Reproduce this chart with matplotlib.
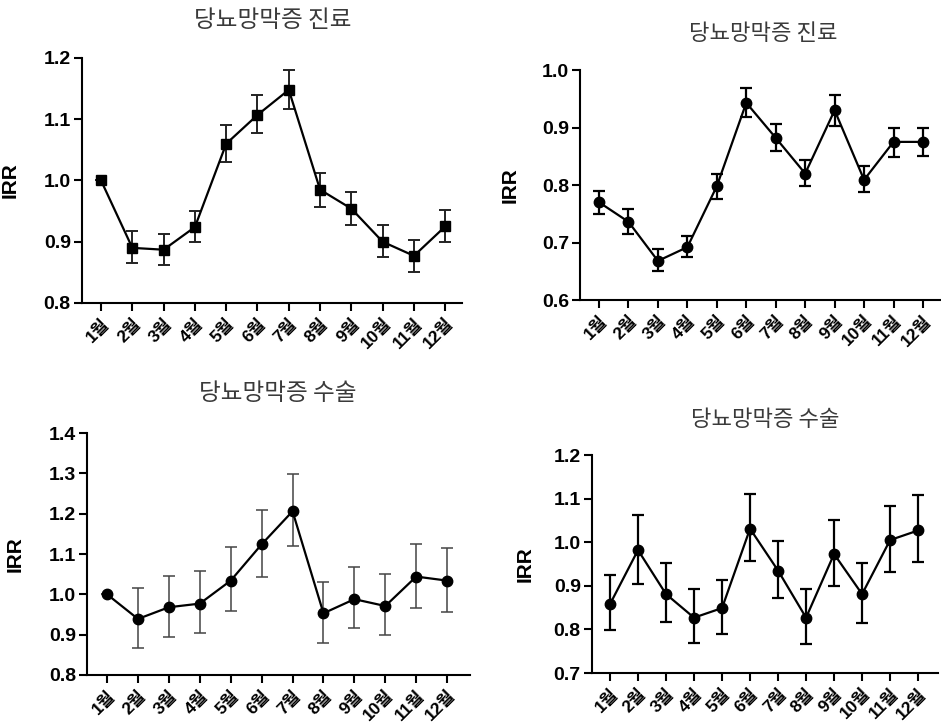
"""
IRR by month for diabetic retinopathy: treatment (top) and surgery (bottom), two panels each.
"""
import matplotlib
matplotlib.use("Agg")
import matplotlib.pyplot as plt

months = [1, 2, 3, 4, 5, 6, 7, 8, 9, 10, 11, 12]
month_labels = [f"{m}월" for m in months]

title_treat = "당뇨망막증 진료"
title_surg = "당뇨망막증 수술"

# top-left: treatment (squares)
tl_irr = [1.000, 0.890, 0.887, 0.924, 1.060, 1.107, 1.148, 0.985, 0.954, 0.900, 0.877, 0.925]
tl_hi = [1.000, 0.917, 0.912, 0.950, 1.091, 1.139, 1.180, 1.012, 0.982, 0.927, 0.903, 0.952]
tl_lo = [1.000, 0.865, 0.862, 0.899, 1.031, 1.077, 1.117, 0.957, 0.928, 0.875, 0.851, 0.899]

# top-right: treatment (circles)
tr_irr = [0.770, 0.736, 0.668, 0.692, 0.798, 0.943, 0.882, 0.820, 0.930, 0.809, 0.875, 0.875]
tr_hi = [0.790, 0.758, 0.688, 0.711, 0.819, 0.968, 0.906, 0.844, 0.957, 0.833, 0.900, 0.900]
tr_lo = [0.750, 0.715, 0.650, 0.674, 0.776, 0.919, 0.860, 0.799, 0.903, 0.787, 0.849, 0.850]

# bottom-left: surgery
bl_irr = [1.000, 0.939, 0.968, 0.977, 1.034, 1.124, 1.206, 0.953, 0.988, 0.971, 1.044, 1.034]
bl_hi = [1.000, 1.015, 1.046, 1.058, 1.117, 1.210, 1.298, 1.031, 1.068, 1.051, 1.126, 1.115]
bl_lo = [1.000, 0.868, 0.895, 0.905, 0.958, 1.042, 1.120, 0.880, 0.916, 0.898, 0.967, 0.957]

# bottom-right: surgery
br_irr = [0.858, 0.982, 0.881, 0.827, 0.849, 1.031, 0.935, 0.827, 0.973, 0.881, 1.005, 1.027]
br_hi = [0.925, 1.063, 0.952, 0.892, 0.914, 1.111, 1.003, 0.892, 1.050, 0.952, 1.083, 1.109]
br_lo = [0.798, 0.905, 0.817, 0.768, 0.789, 0.957, 0.873, 0.766, 0.900, 0.815, 0.932, 0.954]

TICK_FONT = ["Liberation Sans", "Noto Sans CJK KR", "DejaVu Sans"]
TITLE_FONT = ["Noto Sans CJK KR", "DejaVu Sans"]


def draw_panel(ax, irr, hi, lo, marker, ylim, yticks, xlim, ylab_x, err_color, err_lw):
    lower = [v - l for v, l in zip(irr, lo)]
    upper = [h - v for v, h in zip(irr, hi)]
    ax.errorbar(months, irr, yerr=[lower, upper], fmt="none",
                ecolor=err_color, elinewidth=err_lw, capsize=4, capthick=err_lw, zorder=2)
    ax.plot(months, irr, color="black", lw=1.6, marker=marker, markersize=7.5, zorder=3)

    ax.set_ylim(*ylim)
    ax.set_yticks(yticks)
    ax.set_yticklabels([f"{t:.1f}" for t in yticks], fontfamily=TICK_FONT,
                       fontweight="bold", fontsize=14)
    ax.set_xlim(*xlim)
    ax.set_xticks(months)
    ax.set_xticklabels(month_labels, rotation=45, ha="right", va="top",
                       rotation_mode="anchor", fontfamily=TICK_FONT,
                       fontweight="bold", fontsize=12.5)

    for side in ["top", "right"]:
        ax.spines[side].set_visible(False)
    for side in ["left", "bottom"]:
        ax.spines[side].set_linewidth(1.5)
    ax.tick_params(direction="out", length=6, width=1.5, pad=2)
    ax.tick_params(axis="x", pad=3)

    ax.set_ylabel("IRR", fontfamily=TICK_FONT, fontweight="bold", fontsize=15)
    ax.yaxis.set_label_coords(ylab_x, 0.5)


fig = plt.figure(figsize=(9.41, 7.24), dpi=100)

ax1 = fig.add_axes([0.0871, 0.5815, 0.404, 0.3384])
draw_panel(ax1, tl_irr, tl_hi, tl_lo, "s", (0.8, 1.2), [0.8, 0.9, 1.0, 1.1, 1.2],
           (0.39, 12.54), -0.163, "#222222", 1.4)

ax2 = fig.add_axes([0.6164, 0.5856, 0.3826, 0.3177])
draw_panel(ax2, tr_irr, tr_hi, tr_lo, "o", (0.6, 1.0), [0.6, 0.7, 0.8, 0.9, 1.0],
           (0.355, 12.58), -0.167, "black", 1.6)

ax3 = fig.add_axes([0.0925, 0.0677, 0.407, 0.3342])
draw_panel(ax3, bl_irr, bl_hi, bl_lo, "o", (0.8, 1.4), [0.8, 0.9, 1.0, 1.1, 1.2, 1.3, 1.4],
           (0.353, 12.74), -0.162, "#444444", 1.1)

ax4 = fig.add_axes([0.6291, 0.0704, 0.3677, 0.3011])
draw_panel(ax4, br_irr, br_hi, br_lo, "o", (0.7, 1.2), [0.7, 0.8, 0.9, 1.0, 1.1, 1.2],
           (0.357, 12.71), -0.165, "black", 1.6)

# Titles
fig.text(0.290, 0.972, title_treat, ha="center", va="center", fontfamily=TITLE_FONT,
         fontsize=17, color="#3a3a3a")
fig.text(0.811, 0.954, title_treat, ha="center", va="center", fontfamily=TITLE_FONT,
         fontsize=16, color="#3a3a3a")
fig.text(0.295, 0.457, title_surg, ha="center", va="center", fontfamily=TITLE_FONT,
         fontsize=17, color="#3a3a3a")
fig.text(0.813, 0.420, title_surg, ha="center", va="center", fontfamily=TITLE_FONT,
         fontsize=16, color="#3a3a3a")

plt.savefig("out.png", dpi=100)
